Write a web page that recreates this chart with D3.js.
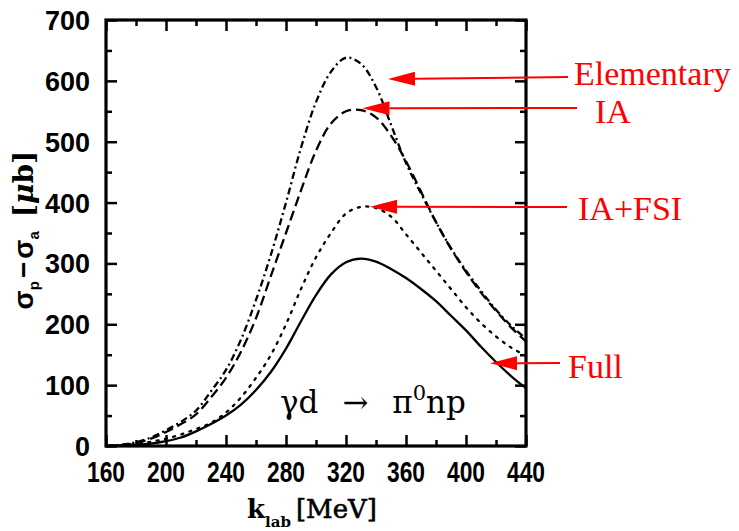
<!DOCTYPE html>
<html>
<head>
<meta charset="utf-8">
<script src="https://cdn.jsdelivr.net/npm/d3@7"></script>
<style>
  body { margin: 0; background: #fff; }
  svg { display: block; }
</style>
</head>
<body>
<svg id="chart" width="739" height="531"></svg>
<script>
// photon energy k_lab [MeV]
const kLab = [160, 170, 180, 190, 200, 210, 220, 230, 240, 250, 260, 270, 280, 290, 300,
              310, 320, 330, 340, 350, 360, 370, 380, 390, 400, 410, 420, 430, 440];

// sigma_p - sigma_a [mub]
const elementary = [0, 2, 6, 14, 26, 40, 58, 90, 125, 175, 240, 315, 400, 490, 565,
                    615, 638, 628, 590, 528, 465, 415, 368, 325, 288, 255, 224, 198, 176];
const ia = [0, 1, 5, 12, 23, 36, 52, 80, 112, 155, 210, 280, 350, 420, 485,
            530, 550, 552, 540, 510, 468, 418, 368, 324, 286, 252, 222, 195, 172];
const iaFsi = [0, 1, 3, 7, 12, 19, 28, 38, 55, 80, 112, 150, 200, 258, 310,
               350, 382, 393, 391, 377, 348, 318, 288, 258, 228, 202, 180, 162, 148];
const full = [0, 1, 2, 4, 8, 14, 24, 36, 50, 68, 92, 122, 160, 205, 248,
              282, 302, 308, 303, 291, 276, 258, 238, 214, 190, 163, 138, 115, 95];

const xTicks = [160, 200, 240, 280, 320, 360, 400, 440];
const yTicks = [0, 100, 200, 300, 400, 500, 600, 700];

const series = [
  { name: "Elementary", values: elementary, dash: "7,3.5,2,3.5", tip: [348, 603] },
  { name: "IA", values: ia, dash: "10,5", tip: [331, 555] },
  { name: "IA+FSI", values: iaFsi, dash: "2,6.5", tip: [336, 393] },
  { name: "Full", values: full, dash: null, tip: [416, 136] }
];

const svg = d3.select("#chart");
const x = d3.scaleLinear().domain([160, 440]).range([106, 526]);
const y = d3.scaleLinear().domain([0, 700]).range([446, 20]);

// curves
const line = d3.line()
  .x((d, i) => x(kLab[i]))
  .y(d => y(d))
  .curve(d3.curveCatmullRom);

svg.selectAll("path.curve")
  .data(series)
  .enter()
  .append("path")
  .attr("class", "curve")
  .attr("d", d => line(d.values))
  .attr("fill", "none")
  .attr("stroke", "#000")
  .attr("stroke-width", 2.3)
  .attr("stroke-linecap", d => d.dash === "2,6.5" ? "round" : "butt")
  .attr("stroke-dasharray", d => d.dash);

// frame and inward ticks
const tickW = 2.5;
const minorX = d3.range(180, 440, 40);
const minorY = d3.range(50, 700, 100);

const axB = d3.axisBottom(x).tickValues(xTicks).tickSize(-11).tickFormat("");
const axT = d3.axisTop(x).tickValues(xTicks).tickSize(-11).tickFormat("");
const axL = d3.axisLeft(y).tickValues(yTicks).tickSize(-11).tickFormat("");
const axR = d3.axisRight(y).tickValues(yTicks).tickSize(-11).tickFormat("");
const mB = d3.axisBottom(x).tickValues(minorX).tickSize(-6).tickFormat("");
const mT = d3.axisTop(x).tickValues(minorX).tickSize(-6).tickFormat("");
const mL = d3.axisLeft(y).tickValues(minorY).tickSize(-6).tickFormat("");
const mR = d3.axisRight(y).tickValues(minorY).tickSize(-6).tickFormat("");

[[axB, mB, `translate(0,${y(0)})`], [axT, mT, `translate(0,${y(700)})`],
 [axL, mL, `translate(${x(160)},0)`], [axR, mR, `translate(${x(440)},0)`]].forEach(([a, m, t]) => {
  [a, m].forEach(ax => {
    const g = svg.append("g").attr("transform", t).call(ax);
    g.select(".domain").remove();
    g.selectAll("line").attr("stroke", "#000").attr("stroke-width", tickW);
  });
});

svg.append("rect")
  .attr("x", x(160)).attr("y", y(700))
  .attr("width", x(440) - x(160)).attr("height", y(0) - y(700))
  .attr("fill", "none").attr("stroke", "#000").attr("stroke-width", 3.2);

// tick labels
svg.selectAll("text.xl")
  .data(xTicks)
  .enter()
  .append("text")
  .attr("class", "xl")
  .attr("x", d => x(d))
  .attr("y", y(0) + 36)
  .attr("text-anchor", "middle")
  .attr("textLength", d => String(d).length * 12.7)
  .attr("lengthAdjust", "spacingAndGlyphs")
  .style("font-family", "Liberation Sans, Arial, sans-serif")
  .style("font-weight", "bold")
  .style("font-size", "30px")
  .text(d => d);

svg.selectAll("text.yl")
  .data(yTicks)
  .enter()
  .append("text")
  .attr("class", "yl")
  .attr("x", 90)
  .attr("y", d => y(d) + 10)
  .attr("text-anchor", "end")
  .attr("textLength", d => String(d).length * 15)
  .attr("lengthAdjust", "spacingAndGlyphs")
  .style("font-family", "Liberation Sans, Arial, sans-serif")
  .style("font-weight", "bold")
  .style("font-size", "28px")
  .text(d => d);

// y title
const yt = svg.append("text")
  .attr("transform", "translate(33,230) rotate(-90)")
  .attr("text-anchor", "middle")
  .style("font-family", "Liberation Sans, Arial, sans-serif")
  .style("font-weight", "bold")
  .style("font-size", "28px");
yt.append("tspan").text("σ");
yt.append("tspan").attr("dy", 6).style("font-size", "15px").text("p");
yt.append("tspan").attr("dy", -6).attr("dx", 3).text("−");
yt.append("tspan").attr("dx", 3).text("σ");
yt.append("tspan").attr("dy", 6).style("font-size", "15px").text("a");
yt.append("tspan").attr("dy", -6).attr("dx", 14)
  .style("font-family", "DejaVu Serif, serif").text("[");
yt.append("tspan").style("font-family", "DejaVu Serif, serif").style("font-style", "italic").text("μ");
yt.append("tspan").style("font-family", "DejaVu Serif, serif").text("b]");

// x title
const xt = svg.append("text")
  .attr("x", 247).attr("y", 518)
  .style("font-family", "DejaVu Serif, serif")
  .style("font-size", "26px");
xt.append("tspan").style("font-weight", "bold").text("k");
xt.append("tspan").attr("dy", 9).style("font-size", "15px").style("font-weight", "bold").text("lab");
xt.append("tspan").attr("dy", -9).attr("dx", 5)
  .attr("stroke", "#000").attr("stroke-width", 0.6).text("[MeV]");

// reaction label
const rl = svg.append("text")
  .attr("x", 280).attr("y", 413)
  .style("font-family", "DejaVu Serif, serif")
  .style("font-size", "31px");
rl.append("tspan").text("γd");
rl.append("tspan").attr("dx", 24).text("→");
rl.append("tspan").attr("dx", 24).text("π");
rl.append("tspan").attr("dy", -13).style("font-size", "21px").text("0");
rl.append("tspan").attr("dy", 13).text("np");

// red annotations
const labelPos = {
  "Elementary": { tx: 574, ty: 85, lx: 568, ly: 77 },
  "IA": { tx: 595, ty: 123, lx: 577, ly: 108 },
  "IA+FSI": { tx: 578, ty: 220, lx: 567, ly: 207 },
  "Full": { tx: 568, ty: 378, lx: 560, ly: 363 }
};

series.forEach(s => {
  const p = labelPos[s.name];
  const tx = x(s.tip[0]), ty = y(s.tip[1]);
  const ang = Math.atan2(p.ly - ty, p.lx - tx);
  const L = 27, W = 7;
  const bx = tx + L * Math.cos(ang), by = ty + L * Math.sin(ang);
  svg.append("line")
    .attr("x1", p.lx).attr("y1", p.ly).attr("x2", bx).attr("y2", by)
    .attr("stroke", "#ff0000").attr("stroke-width", 2);
  svg.append("path")
    .attr("d", `M${tx},${ty}L${bx - W * Math.sin(ang)},${by + W * Math.cos(ang)}L${bx + W * Math.sin(ang)},${by - W * Math.cos(ang)}Z`)
    .attr("fill", "#ff0000");
  svg.append("text")
    .attr("x", p.tx).attr("y", p.ty)
    .attr("fill", "#ff0000")
    .style("font-family", "Liberation Serif, Times New Roman, serif")
    .style("font-size", "34px")
    .text(s.name);
});
</script>
</body>
</html>
